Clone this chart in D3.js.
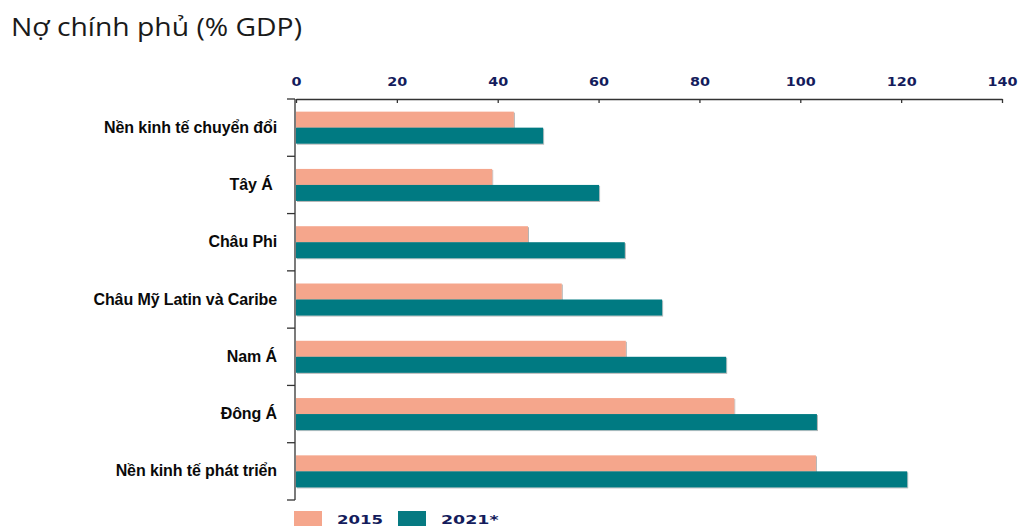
<!DOCTYPE html>
<html>
<head>
<meta charset="utf-8">
<script src="https://cdn.jsdelivr.net/npm/d3@7"></script>
<style>
  html, body { margin: 0; padding: 0; background: #fff; }
  svg { display: block; }
</style>
</head>
<body>
<svg id="chart" width="1018" height="526"></svg>
<script>
const title = "Nợ chính phủ (% GDP)";
const categories = [
  "Nền kinh tế chuyển đổi",
  "Tây Á ",
  "Châu Phi",
  "Châu Mỹ Latin và Caribe",
  "Nam Á",
  "Đông Á",
  "Nền kinh tế phát triển"
];
const seriesNames = ["2015", "2021*"];
const values2015 = [43.2, 38.9, 46.0, 52.7, 65.4, 86.9, 103.1];
const values2021 = [49.0, 60.1, 65.2, 72.6, 85.3, 103.3, 121.2];
const xTicks = [0, 20, 40, 60, 80, 100, 120, 140];

const colors = {"2015": "#f5a68c", "2021*": "#067a82"};
const seriesValues = {"2015": values2015, "2021*": values2021};

const svg = d3.select("#chart");
svg.append("rect").attr("width", 1018).attr("height", 526).attr("fill", "#fff");

const defs = svg.append("defs");
const f = defs.append("filter").attr("id", "sh").attr("x", "-5%").attr("y", "-20%").attr("width", "110%").attr("height", "160%");
f.append("feDropShadow").attr("dx", 1).attr("dy", 1).attr("stdDeviation", 0.7)
  .attr("flood-color", "#000").attr("flood-opacity", 0.3);

// title
svg.append("text")
  .attr("x", 11).attr("y", 36)
  .attr("font-family", "'Open Sans', 'Noto Sans', sans-serif")
  .attr("font-size", 25.5)
  .attr("fill", "#1a1a1a")
  .attr("textLength", 291)
  .attr("lengthAdjust", "spacingAndGlyphs")
  .text(title);

const x = d3.scaleLinear().domain([0, 140]).range([296, 1002]);
const y = d3.scaleBand().domain(categories).range([99, 500]).padding(0);
const yInner = d3.scaleBand().domain(seriesNames).range([0, y.bandwidth()])
  .paddingInner(0).paddingOuter(0.79);

// bars
const groups = svg.append("g").selectAll("g")
  .data(categories)
  .join("g")
  .attr("transform", d => `translate(0,${y(d)})`);

groups.selectAll("rect")
  .data((d, i) => seriesNames.map(s => ({s, v: seriesValues[s][i]})))
  .join("rect")
  .attr("x", x(0))
  .attr("y", d => yInner(d.s))
  .attr("width", d => x(d.v) - x(0))
  .attr("height", yInner.bandwidth())
  .attr("fill", d => colors[d.s])
  .attr("filter", "url(#sh)");

// top axis
const xAxis = d3.axisTop(x).tickValues(xTicks).tickSize(-4).tickPadding(12).tickSizeOuter(0);
const gx = svg.append("g").attr("transform", `translate(0,${99})`).call(xAxis);
gx.select(".domain").attr("stroke", "#333").attr("stroke-width", 1.3);
gx.selectAll(".tick line").attr("stroke", "#333").attr("stroke-width", 1.3);
gx.selectAll(".tick text")
  .attr("font-family", "'DejaVu Sans', sans-serif")
  .attr("font-weight", "bold")
  .attr("font-size", 12)
  .attr("fill", "#141c5c")
  .attr("dy", "-0.1em")
  .each(function(d) {
    const t = String(d);
    d3.select(this).attr("textLength", t.length * 10).attr("lengthAdjust", "spacingAndGlyphs");
  });

// left axis (labels only)
const yAxis = d3.axisLeft(y).tickSize(0).tickPadding(18);
const gy = svg.append("g").attr("transform", `translate(${295},0)`).call(yAxis);
gy.select(".domain").remove();
gy.selectAll(".tick text")
  .attr("font-family", "'Liberation Sans', Arial, sans-serif")
  .attr("font-weight", "bold")
  .attr("font-size", 16)
  .attr("letter-spacing", -0.1)
  .attr("fill", "#0a0a0a")
  .style("white-space", "pre");

// left axis line and boundary ticks
const boundaries = categories.map(c => y(c)).concat([y.range()[1]]);
svg.append("line")
  .attr("x1", 295).attr("x2", 295)
  .attr("y1", y.range()[0]).attr("y2", y.range()[1])
  .attr("stroke", "#333").attr("stroke-width", 1.3);
svg.append("g").selectAll("line")
  .data(boundaries)
  .join("line")
  .attr("x1", 287).attr("x2", 295)
  .attr("y1", d => d).attr("y2", d => d)
  .attr("stroke", "#333").attr("stroke-width", 1.3);

// legend
const legend = svg.append("g");
const legendX = [294, 398];
seriesNames.forEach((s, i) => {
  legend.append("rect")
    .attr("x", legendX[i]).attr("y", 511)
    .attr("width", 28).attr("height", 16)
    .attr("fill", colors[s]);
  legend.append("text")
    .attr("x", legendX[i] + 43).attr("y", 523.5)
    .attr("font-family", "'DejaVu Sans', sans-serif")
    .attr("font-weight", "bold")
    .attr("font-size", 12)
    .attr("fill", "#141c5c")
    .attr("textLength", s.length * 11.5)
    .attr("lengthAdjust", "spacingAndGlyphs")
    .text(s);
});
</script>
</body>
</html>
